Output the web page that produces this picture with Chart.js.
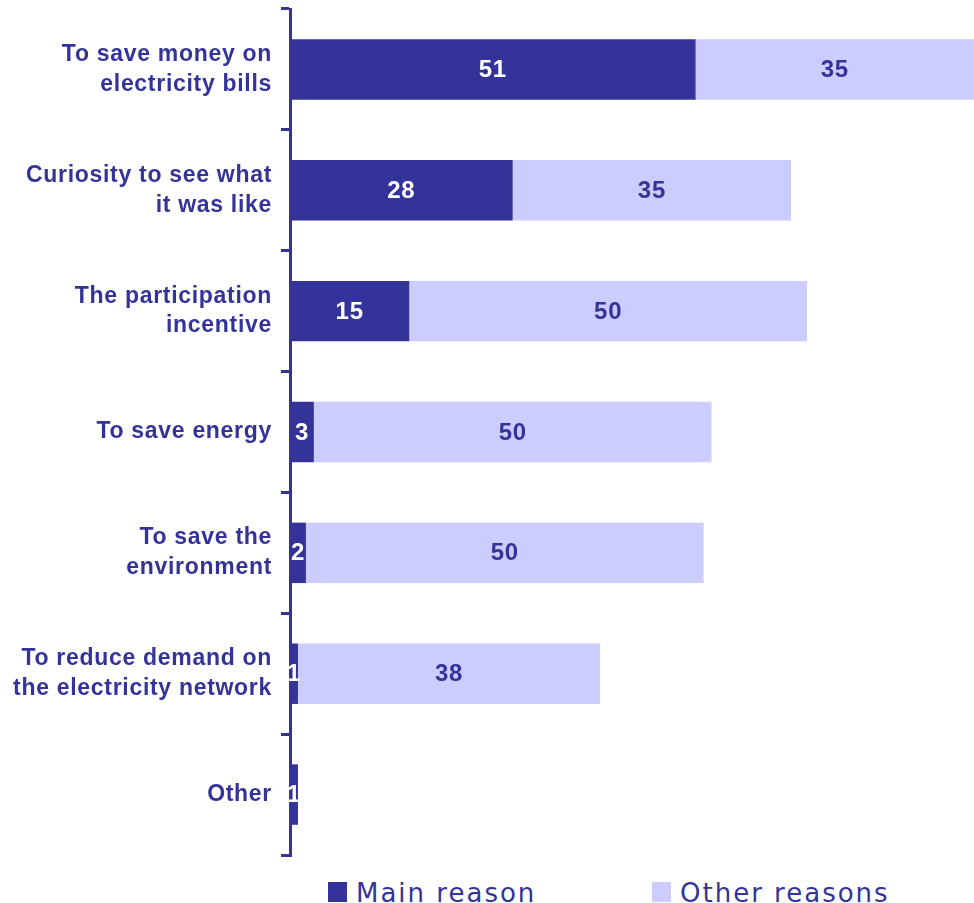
<!DOCTYPE html>
<html>
<head>
<meta charset="utf-8">
<script src="https://cdn.jsdelivr.net/npm/chart.js@4"></script>
<style>
  body { margin: 0; background: #fff; overflow: hidden; }
  .wrap { position: relative; width: 974px; height: 903px; }
  .legend-item {
    position: absolute; top: 880px; display: flex; align-items: flex-start;
    font: 26px "DejaVu Sans"; letter-spacing: 2px; color: #333399; line-height: 26px;
  }
  .legend-item i { display: block; width: 19px; height: 20px; margin-top: 2px; margin-right: 9px; }
</style>
</head>
<body>
<div class="wrap">
  <canvas id="chart" width="974" height="862"></canvas>
  <div class="legend-item" style="left:328px"><i style="background:#333399"></i>Main reason</div>
  <div class="legend-item" style="left:652px"><i style="background:#CCCCFF"></i>Other reasons</div>
</div>
<script>
const labels = [
    ['To save money on', 'electricity bills'],
    ['Curiosity to see what', 'it was like'],
    ['The participation', 'incentive'],
    'To save energy',
    ['To save the', 'environment'],
    ['To reduce demand on', 'the electricity network'],
    'Other'
]
const mainReason = [51, 28, 15, 3, 2, 1, 1]
const otherReasons = [35, 35, 50, 50, 50, 38, null]

const navy = '#333399'
const lilac = '#CCCCFF'

// the original text is a bit spaced out
const spacing = {
    id: 'spacing',
    beforeUpdate(chart) { chart.ctx.letterSpacing = '0.7px' },
    beforeDraw(chart) { chart.ctx.letterSpacing = '0.7px' }
}

const barValues = {
    id: 'barValues',
    afterDatasetsDraw(chart) {
        const ctx = chart.ctx
        ctx.save()
        ctx.font = 'bold 24px "Liberation Sans"'
        ctx.textAlign = 'center'
        ctx.textBaseline = 'middle'
        chart.data.datasets.forEach((ds, i) => {
            chart.getDatasetMeta(i).data.forEach((bar, j) => {
                const v = ds.data[j]
                if (v == null) return
                ctx.fillStyle = i == 0 ? '#fff' : navy
                ctx.fillText(v, (bar.x + bar.base) / 2, bar.y + 1)
            })
        })
        ctx.restore()
    }
}

new Chart(document.getElementById('chart'), {
    type: 'bar',
    data: {
        labels: labels,
        datasets: [{
            label: 'Main reason',
            data: mainReason,
            backgroundColor: navy,
            barPercentage: 0.5,
            categoryPercentage: 1
        }, {
            label: 'Other reasons',
            data: otherReasons,
            backgroundColor: lilac,
            barPercentage: 0.5,
            categoryPercentage: 1
        }]
    },
    options: {
        indexAxis: 'y',
        responsive: false,
        animation: false,
        layout: { padding: { top: 9, bottom: 7, left: 0, right: 0 } },
        plugins: {
            legend: { display: false },
            tooltip: { enabled: false }
        },
        scales: {
            x: { stacked: true, display: false, min: 0, max: 86 },
            y: {
                stacked: true,
                afterFit(scale) {
                    scale.width = 290
                    scale.paddingTop = 0
                    scale.paddingBottom = 0
                },
                grid: { offset: true, drawOnChartArea: false, color: navy, lineWidth: 3, tickLength: 9 },
                border: { color: navy, width: 3 },
                ticks: {
                    color: navy,
                    padding: 9,
                    font: { family: 'Liberation Sans', size: 23, weight: 'bold', lineHeight: 1.3 }
                }
            }
        }
    },
    plugins: [spacing, barValues]
})
</script>
</body>
</html>
